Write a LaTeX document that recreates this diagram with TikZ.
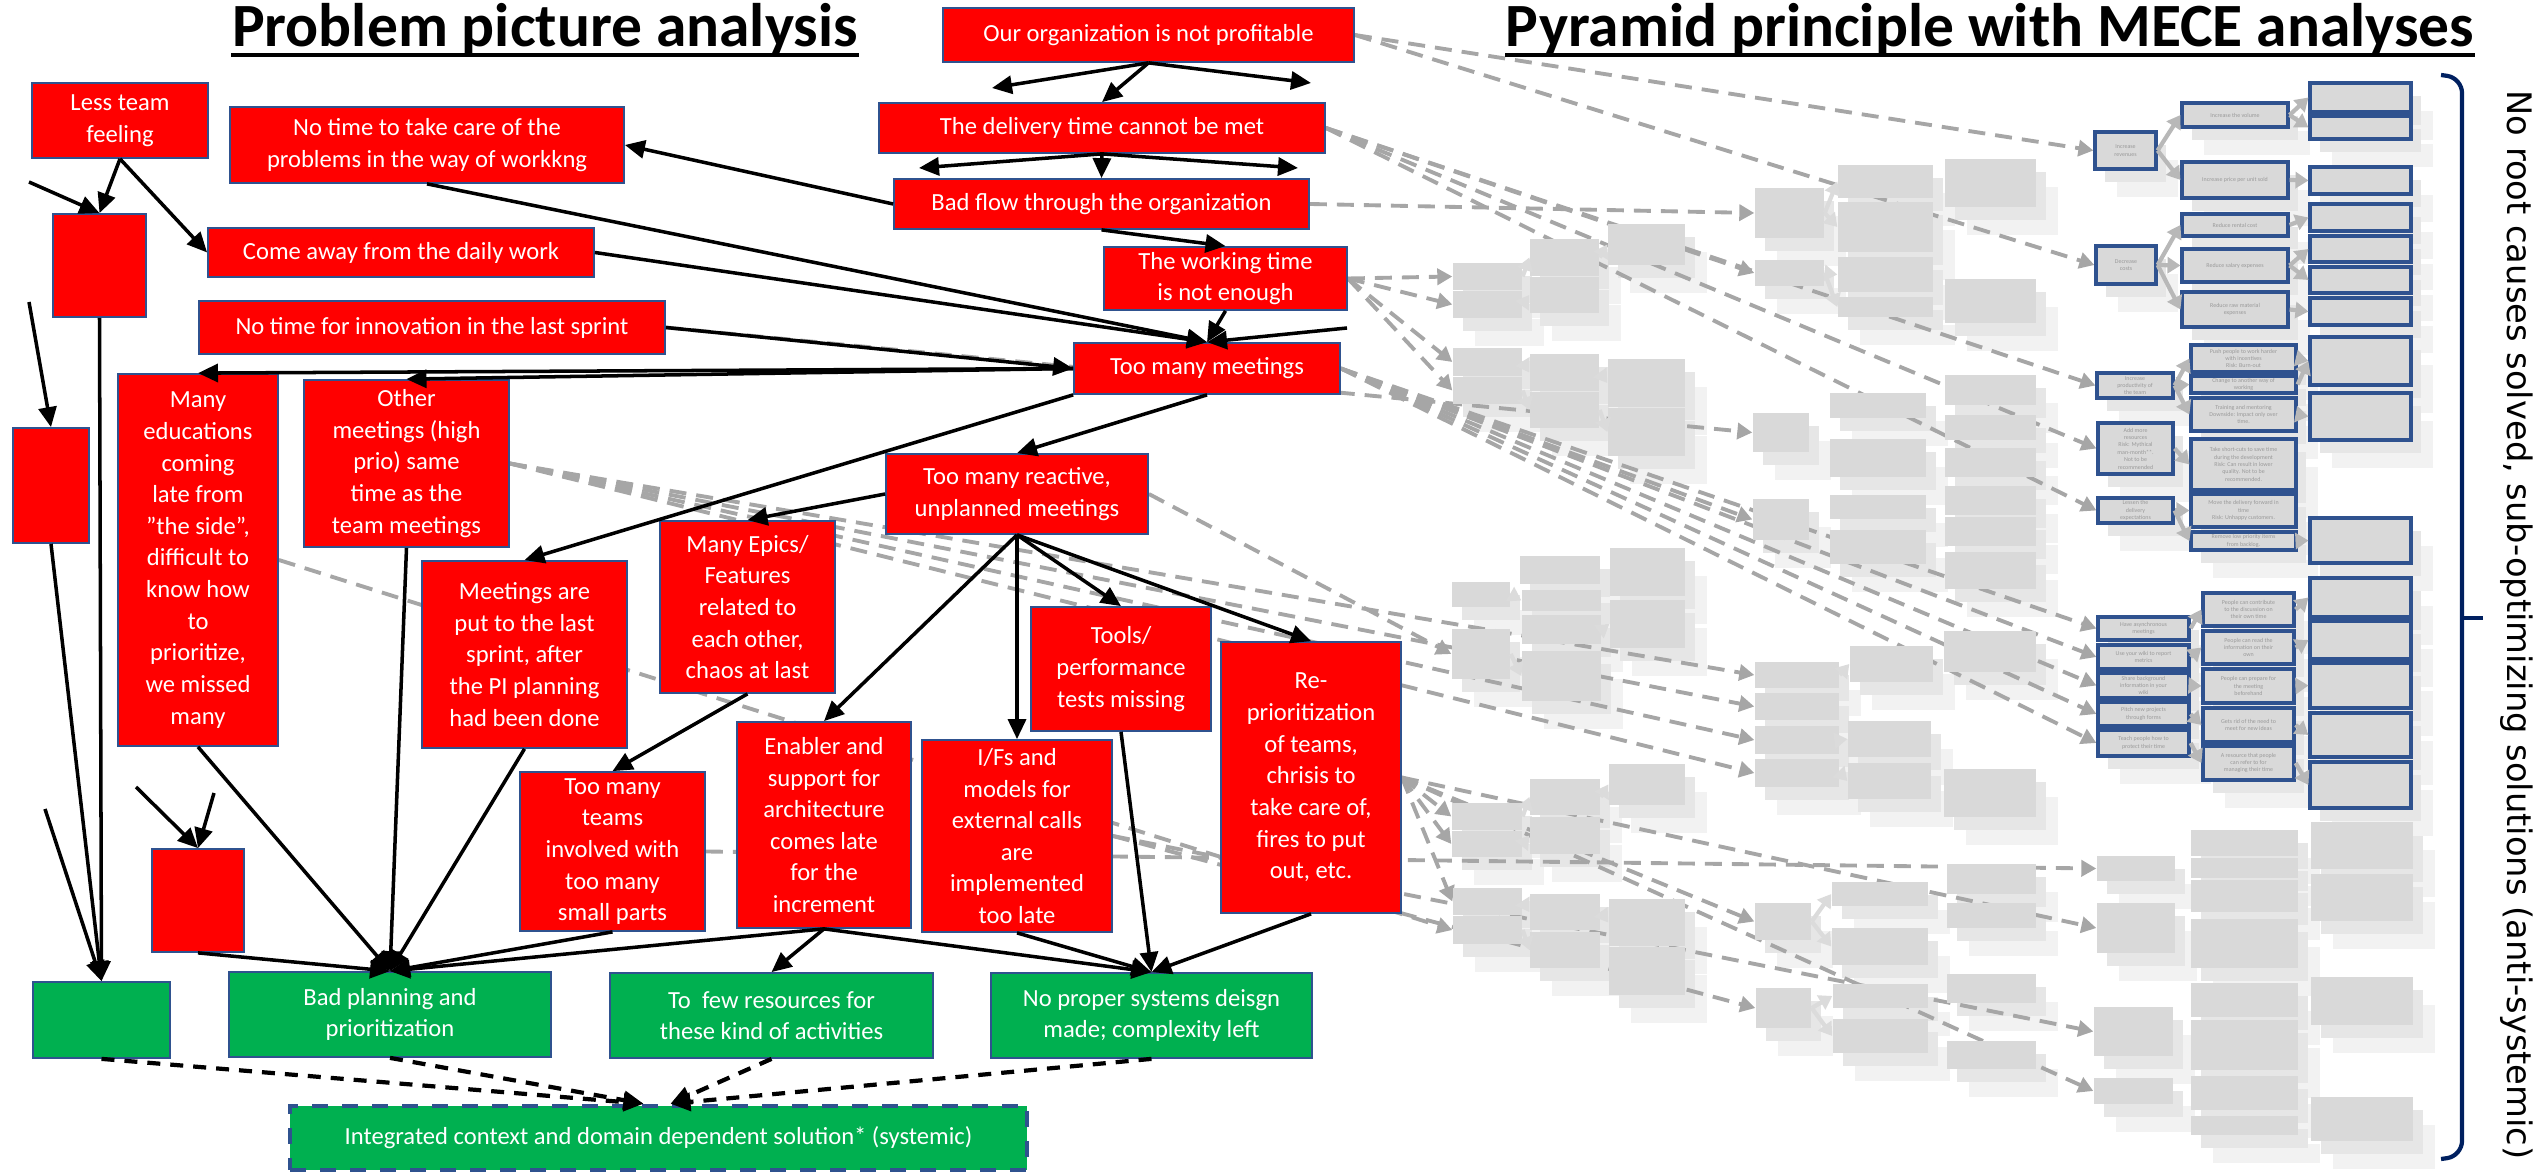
\documentclass[tikz,border=0pt]{standalone}
\usepackage{fontspec}
\setmainfont{Carlito}
\newfontfamily\sidefont{DejaVu Sans}
\usetikzlibrary{arrows.meta}
\pgfdeclarelayer{background}
\pgfsetlayers{background,main}

\definecolor{probred}{HTML}{FF0000}
\definecolor{edgeblue}{HTML}{2F528F}
\definecolor{solgreen}{HTML}{00B050}
\definecolor{boxgray}{HTML}{D9D9D9}
\definecolor{shade1}{HTML}{E6E6E6}
\definecolor{shade2}{HTML}{F2F2F2}
\definecolor{linkgray}{HTML}{A6A6A6}
\definecolor{tinygray}{HTML}{9A9A9A}
\definecolor{bracenavy}{HTML}{002060}

\tikzset{
  sz/.style 2 args={minimum width=(#1)*0.1mm, minimum height=(#2)*0.1mm},
  prob/.style={rectangle, fill=probred, draw=edgeblue, line width=0.5pt,
    text=white, align=center, inner sep=0pt, font=\fontsize{7}{9}\selectfont},
  sol/.style={prob, fill=solgreen},
  integ/.style={sol, line width=1.3pt, dash pattern=on 1.6mm off 1.4mm},
  heading/.style={font=\fontsize{17.5}{21}\selectfont\bfseries, inner sep=0pt, anchor=base},
  link/.style={-{Triangle[length=2mm,width=1.8mm]}, line width=1pt},
  solvelink/.style={link, dash pattern=on 1.3mm off 1mm, line width=1.2pt},
  graylink/.style={draw=linkgray, line width=1.1pt, dash pattern=on 1.7mm off 1mm,
    -{Triangle[length=1.5mm,width=1.6mm]}},
  mecelink/.style={draw=linkgray!80, line width=1.2pt, -{Triangle[length=1.3mm,width=1.6mm]}},
  gbox/.style={rectangle, fill=boxgray, inner sep=0pt},
  mece/.style={rectangle, fill=boxgray, draw=edgeblue, line width=0.9pt, inner sep=0pt,
    align=center, text=tinygray, font=\fontsize{1.7}{2.1}\selectfont},
}

% gray pyramid boxes: name/x1/y1/x2/y2
\newcommand{\pyrgray}{%
A1/1453/263/1522/290, A2/1453/291/1522/318, A3/1453/348/1522/376, A4/1453/377/1522/404,
A5/1452/582/1510/607, A6/1452/629/1510/679, A7/1452/803/1522/830, A8/1452/831/1522/857,
A9/1453/888/1522/915, A10/1453/916/1522/944,
B1/1530/239/1599/276, B2/1530/277/1599/313, B3/1530/354/1599/391, B4/1530/392/1599/428,
B5/1520/556/1600/584, B6/1522/590/1601/611, B7/1522/615/1601/644, B8/1522/651/1601/701,
B9/1530/779/1600/815, B10/1530/817/1600/854, B11/1530/894/1600/930, B12/1530/932/1600/968,
C1/1608/224/1685/265, C2/1608/359/1685/407, C3/1608/408/1685/456, C4/1610/548/1685/596,
C5/1610/600/1685/648, C6/1609/764/1685/805, C7/1609/899/1685/946, C8/1609/947/1685/995,
D1/1755/188/1824/238, D2/1755/260/1824/286, D3/1753/413/1809/452, D4/1753/499/1809/540,
D5/1755/662/1839/688, D6/1755/693/1839/720, D7/1755/726/1839/754, D8/1755/759/1839/787,
D9/1755/903/1811/940, D10/1756/988/1811/1028,
E1/1838/165/1933/198, E2/1838/202/1933/252, E3/1838/257/1933/292, E4/1838/297/1933/317,
E5/1830/393/1926/418, E6/1830/439/1926/477, E7/1830/495/1926/519, E8/1830/530/1926/564,
E9/1850/646/1933/682, E10/1848/721/1931/757, E11/1848/763/1931/799, E12/1832/882/1928/906,
E13/1832/928/1928/965, E14/1833/984/1928/1008, E15/1833/1019/1928/1053,
F1/1945/159/2036/207, F2/1945/279/2036/323, F3/1945/375/2036/405, F4/1945/415/2036/440,
F5/1945/448/2036/477, F6/1945/486/2036/515, F7/1945/517/2036/546, F8/1945/552/2036/589,
F9/1944/631/2036/672, F10/1944/769/2036/817, F11/1947/864/2036/894, F12/1947/903/2036/928,
F13/1947/974/2036/1003, F14/1947/1041/2036/1069,
G1/2097/856/2175/881, G2/2097/903/2175/953, G3/2094/1007/2173/1056, G4/2094/1078/2173/1104,
H1/2191/830/2298/856, H2/2191/858/2298/878, H3/2191/880/2298/912, H4/2191/919/2298/968,
H5/2191/983/2298/1017, H6/2191/1020/2298/1070, H7/2191/1076/2298/1110, H8/2191/1116/2298/1135,
I1/2311/822/2413/869, I2/2311/874/2413/921, I3/2311/977/2413/1025, I4/2311/1097/2413/1141}

% right column of framed boxes: name/y1/y2
\newcommand{\pyrtop}{%
K1/83/112, K2/116/139, K3/167/194, K4/204/231, K5/236/262, K6/267/293, K7/298/325,
K8/337/385, K9/393/440, K10/518/563, K11/578/617, K12/621/659, K13/663/708,
K14/713/757, K15/762/808}

% framed MECE boxes: name/x1/y1/x2/y2/text
\newcommand{\pyrmece}{%
rev/2095/132/2156/169/{Increase\\revenues},
cost/2096/246/2156/284/{Decrease\\costs},
prod/2097/373/2173/398/{Increase\\productivity of\\the team},
res/2098/423/2173/474/{Add more\\resources\\Risk: Mythical\\man-month**.\\Not to be\\recommended},
less/2098/498/2173/523/{Lessen the\\delivery\\expectations},
async/2098/617/2189/640/{Have asynchronous\\meetings},
wiki/2098/645/2189/669/{Use your wiki to report\\metrics},
share/2098/673/2189/698/{Share background\\information in your\\wiki},
pitch/2098/702/2189/726/{Pitch new projects\\through forms},
teach/2098/730/2189/756/{Teach people how to\\protect their time},
vol/2182/103/2288/127/{Increase the volume},
price/2182/162/2288/198/{Increase price per unit sold},
rent/2182/214/2288/236/{Reduce rental cost},
sal/2182/249/2288/282/{Reduce salary expenses},
raw/2182/292/2288/327/{Reduce raw material\\expenses},
push/2191/345/2296/372/{Push people to work harder\\with incentives\\Risk: Burn-out},
change/2191/376/2296/393/{Change to another way of\\working},
train/2191/398/2296/431/{Training and mentoring\\Downside: Impact only over\\time.},
short/2191/439/2296/490/{Take short-cuts to save time\\during the development\\Risk: Can result in lower\\quality. Not to be\\recommended.},
move/2191/494/2296/527/{Move the delivery forward in\\time\\Risk: Unhappy customers.},
remove/2191/532/2296/550/{Remove low priority items\\from backlog.},
contrib/2203/593/2294/626/{People can contribute\\to the discussion on\\their own time},
read/2203/631/2294/664/{People can read the\\information on their\\own},
prep/2203/669/2294/703/{People can prepare for\\the meeting\\beforehand},
rid/2203/708/2294/742/{Gets rid of the need to\\meet for new ideas},
resource/2203/746/2294/780/{A resource that people\\can refer to for\\managing their time}}

\begin{document}
\begin{tikzpicture}[x=0.1mm, y=-0.1mm]
  \useasboundingbox (0,0) rectangle (2542,1172);

  % titles
  \node[heading] (probtitle) at (545,47) {Problem picture analysis};
  \draw[line width=0.9pt] ([yshift=-0.8mm]probtitle.base west) -- ([yshift=-0.8mm]probtitle.base east);
  \node[heading] (pyrtitle) at (1990,47) {Pyramid principle with MECE analyses};
  \draw[line width=0.9pt] ([yshift=-0.8mm]pyrtitle.base west) -- ([yshift=-0.8mm]pyrtitle.base east);

  % problem picture
  \node[prob, sz={411}{54}] (orgprof) at (1148.5,35) {Our organization is not profitable};
  \node[prob, sz={446}{50}] (delivery) at (1102,128) {The delivery time cannot be met};
  \node[prob, sz={415}{50}] (badflow) at (1101.5,204) {Bad flow through the organization};
  \node[prob, sz={243}{63}] (worktime) at (1225.5,278.5) {The working time\\ is not enough};
  \node[prob, sz={266}{51}] (meetings) at (1207,368.5) {Too many meetings};
  \node[prob, sz={176}{75}] (teamfeel) at (120,120.5) {Less team\\feeling};
  \node[prob, sz={394}{76}] (notime) at (427,145) {No time to take care of the\\problems in the way of workkng};
  \node[prob, sz={93}{103}] (blankA) at (99.5,265.5) {};
  \node[prob, sz={386}{49}] (comeaway) at (401,252.5) {Come away from the daily work};
  \node[prob, sz={466}{53}] (innov) at (432,327.5) {No time for innovation in the last sprint};
  \node[prob, sz={160}{372}] (educ) at (198,560) {Many\\educations\\coming\\late from\\”the side”,\\difficult to\\know how\\to\\prioritize,\\we missed\\many};
  \node[prob, sz={205}{167}] (othermeet) at (406.5,463.5) {Other\\meetings (high\\prio) same\\time as the\\team meetings};
  \node[prob, sz={76}{115}] (blankB) at (51,485.5) {};
  \node[prob, sz={205}{187}] (lastsprint) at (524.5,654.5) {Meetings are\\put to the last\\sprint, after\\the PI planning\\had been done};
  \node[prob, sz={175}{172}] (epics) at (747.5,607) {Many Epics/\\Features\\related to\\each other,\\chaos at last};
  \node[prob, sz={262}{80}] (reactive) at (1017,494) {Too many reactive,\\unplanned meetings};
  \node[prob, sz={180}{124}] (tools) at (1121,669) {Tools/\\performance\\tests missing};
  \node[prob, sz={180}{271}] (reprio) at (1311,777.5) {Re-\\prioritization\\of teams,\\chrisis to\\take care of,\\fires to put\\out, etc.};
  \node[prob, sz={185}{159}] (teams) at (612.5,851.5) {Too many\\teams\\involved with\\too many\\small parts};
  \node[prob, sz={174}{206}] (enabler) at (824,825) {Enabler and\\support for\\architecture\\comes late\\for the\\increment};
  \node[prob, sz={190}{192}] (ifs) at (1017,836) {I/Fs and\\models for\\external calls\\are\\implemented\\too late};
  \node[prob, sz={92}{103}] (blankC) at (198,900.5) {};

  \node[sol, sz={137}{76}] (greenD) at (101.5,1020) {};
  \node[sol, sz={322}{85}] (badplan) at (390,1014.5) {Bad planning and\\prioritization};
  \node[sol, sz={323}{85}] (fewres) at (771.5,1015.5) {To~ few resources for\\these kind of activities};
  \node[sol, sz={321}{85}] (nodesign) at (1151.5,1015.5) {No proper systems deisgn\\made; complexity left};
  \node[integ, sz={737}{64}] (integ) at (658.5,1138) {Integrated context and domain dependent solution* (systemic)};

  % loose arrow ends
  \coordinate (oprL) at (992,88);
  \coordinate (oprR) at (1311,83);
  \coordinate (delL) at (919,168);
  \coordinate (delR) at (1298,168);
  \coordinate (mtgR) at (1347,328);
  \coordinate (looseA) at (29,182);
  \coordinate (looseB) at (29,302);
  \coordinate (looseD) at (45,809);
  \coordinate (looseC1) at (136,787);
  \coordinate (looseC2) at (214,793);

  \draw[link] (orgprof.south) -- (oprL);
  \draw[link] (orgprof.south) -- (delivery.north);
  \draw[link] (orgprof.south) -- (oprR);
  \draw[link] (delivery.south) -- (delL);
  \draw[link] (delivery.south) -- (badflow.north);
  \draw[link] (delivery.south) -- (delR);
  \draw[link] (badflow.south) -- (worktime.north);
  \draw[link] (badflow.west) -- (notime.east);
  \draw[link] (worktime.south) -- (meetings.north);
  \draw[link] (mtgR) -- (meetings.north);
  \draw[link] (notime.south) -- (meetings.north);
  \draw[link] (comeaway.east) -- (meetings.north);
  \draw[link] (innov.east) -- (meetings.west);
  \draw[link] (meetings.west) -- (educ.north);
  \draw[link] (meetings.west) -- (othermeet.north);
  \draw[link] (meetings.south west) -- (lastsprint.north);
  \draw[link] (meetings.south) -- (reactive.north);
  \draw[link] (teamfeel.south) -- (blankA.north);
  \draw[link] (teamfeel.south) -- (comeaway.west);
  \draw[link] (looseA) -- (blankA.north);
  \draw[link] (looseB) -- (blankB.north);
  \draw[link] (blankA.south) -- (greenD.north);
  \draw[link] (blankB.south) -- (greenD.north);
  \draw[link] (looseD) -- (greenD.north);
  \draw[link] (looseC1) -- (blankC.north);
  \draw[link] (looseC2) -- (blankC.north);
  \foreach \src in {blankC, educ, othermeet, lastsprint, teams, enabler}
    \draw[link] (\src.south) -- (badplan.north);
  \draw[link] (enabler.south) -- (fewres.north);
  \foreach \src in {enabler, ifs, tools, reprio}
    \draw[link] (\src.south) -- (nodesign.north);
  \draw[link] (reactive.west) -- (epics.north);
  \foreach \t in {enabler, ifs, tools, reprio}
    \draw[link] (reactive.south) -- (\t.north);
  \draw[link] (epics.south) -- (teams.north);

  \draw[solvelink] (greenD.south) -- ([xshift=-1.5mm]integ.north);
  \draw[solvelink] (badplan.south) -- ([xshift=-1.5mm]integ.north);
  \draw[solvelink] (fewres.south) -- ([xshift=1.2mm]integ.north);
  \draw[solvelink] (nodesign.south) -- ([xshift=1.2mm]integ.north);

  % pyramid with MECE boxes
  \begin{pgfonlayer}{background}
    \foreach \nm/\xa/\ya/\xb/\yb in \pyrgray {
      \fill[shade2] ({\xa+22},{\ya+28}) rectangle ({\xb+22},{\yb+28});
      \fill[shade1] ({\xa+10},{\ya+13}) rectangle ({\xb+10},{\yb+13});
    }
    \foreach \nm/\ya/\yb in \pyrtop {
      \fill[shade2] (2332,{\ya+28}) rectangle (2433,{\yb+28});
      \fill[shade1] (2320,{\ya+13}) rectangle (2421,{\yb+13});
    }
    \foreach \nm/\xa/\ya/\xb/\yb/\txt in \pyrmece {
      \fill[shade2] ({\xa+22},{\ya+28}) rectangle ({\xb+22},{\yb+28});
      \fill[shade1] ({\xa+10},{\ya+13}) rectangle ({\xb+10},{\yb+13});
    }
  \end{pgfonlayer}

  \foreach \nm/\xa/\ya/\xb/\yb in \pyrgray
    \node[gbox, sz={\xb-\xa}{\yb-\ya}] (g-\nm) at ({(\xa+\xb)/2},{(\ya+\yb)/2}) {};
  \foreach \nm/\ya/\yb in \pyrtop
    \node[mece, sz={101}{\yb-\ya}] (m-\nm) at (2360.5,{(\ya+\yb)/2}) {};
  \foreach \nm/\xa/\ya/\xb/\yb/\txt in \pyrmece
    \node[mece, sz={\xb-\xa}{\yb-\ya}] (m-\nm) at ({(\xa+\xb)/2},{(\ya+\yb)/2}) {\txt};

  \foreach \a/\b in {rev/vol, rev/price, vol/K1, vol/K2, price/K3, cost/rent, cost/sal,
      cost/raw, rent/K4, sal/K5, sal/K6, raw/K7, prod/push, prod/change, prod/train,
      push/K8, change/K8, train/K9, res/short, less/move, less/remove, remove/K10,
      async/contrib, wiki/read, share/prep, pitch/rid, teach/resource, contrib/K11,
      read/K12, prep/K13, rid/K14, resource/K15}
    \draw[mecelink] (m-\a.east) -- (m-\b.west);
  \foreach \a/\b in {A1/B1, A2/B2, B1/C1, A3/B3, A4/B4, B3/C2, B4/C3, D1/E1, D1/E2,
      D2/E3, D2/E4, A5/B6, A6/B8, B7/C5, A7/B9, A8/B10, B9/C6, A9/B11, A10/B12, B11/C7,
      D9/E12, D9/E13, D10/E14, D10/E15, D5/E9, D7/E10, D8/E11}
    \draw[mecelink, draw=linkgray!40] (g-\a.east) -- (g-\b.west);

  % dashed links from the problem picture into the pyramid
  \begin{pgfonlayer}{background}
    \foreach \a/\b in {orgprof/m-rev, orgprof/m-cost, delivery/m-prod, delivery/m-res,
        delivery/m-less, delivery/g-D2, badflow/g-D1, worktime/g-A1, worktime/g-A2,
        worktime/g-A3, worktime/g-A4, meetings/m-async, meetings/m-wiki, meetings/m-share,
        meetings/m-pitch, meetings/m-teach, meetings/g-D4, innov/g-D3, othermeet/g-D5,
        othermeet/g-D6, othermeet/g-D7, othermeet/g-D8, educ/g-A10, reactive/g-A6,
        reprio/g-A7, reprio/g-A8, reprio/g-A9, reprio/g-D9, reprio/g-G2, teams/g-G1,
        ifs/g-D10, ifs/g-G3, reprio/g-G4}
      \draw[graylink] (\a.east) -- (\b.west);
  \end{pgfonlayer}

  % brace and side note
  \draw[bracenavy, line width=1.2pt, rounded corners=1.5mm]
    (2441,75) -- (2462,78) -- (2462,618) -- (2462,1156) -- (2441,1159);
  \draw[bracenavy, line width=1.2pt] (2462,618) -- (2483,618);
  \node[font=\sidefont\fontsize{9.6}{11}\selectfont, rotate=-90, inner sep=0pt] (sidenote)
    at (2517,625) {No root causes solved, sub-optimizing solutions (anti-systemic)};
\end{tikzpicture}
\end{document}
